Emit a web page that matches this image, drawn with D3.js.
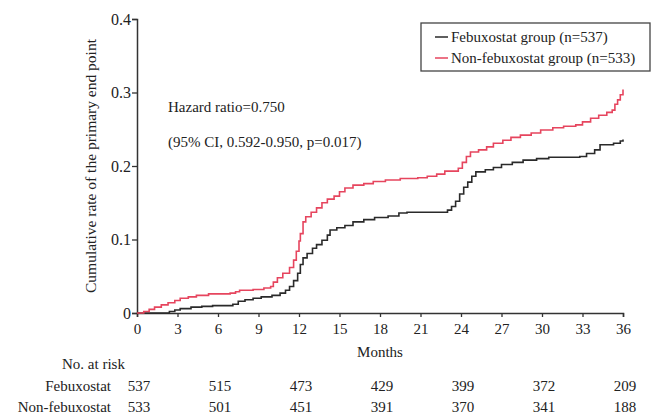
<!DOCTYPE html>
<html><head><meta charset="utf-8">
<script src="https://cdn.jsdelivr.net/npm/d3@7"></script>
<style>body{margin:0;background:#fff}svg{display:block}text{font-family:"Liberation Serif","Times New Roman",serif;fill:#222}</style>
</head><body><svg id="c" width="654" height="414"></svg>
<script>
const xTicks = [0,3,6,9,12,15,18,21,24,27,30,33,36];
const yTicks = [0,0.1,0.2,0.3,0.4];
const yTickLabels = ["0","0.1","0.2","0.3","0.4"];
const seriesNames = ["Febuxostat group (n=537)","Non-febuxostat group (n=533)"];
const seriesColors = ["#2a2a2a","#e6455e"];
const febTime = [0,2.4,2.8,3.2,4.0,4.8,5.6,7.1,7.5,8.0,8.6,9.2,10.0,10.6,11.0,11.3,11.6,11.9,12.1,12.3,12.6,13.0,13.3,13.7,14.1,14.3,14.8,15.4,16.0,16.8,17.6,18.6,19.4,20.0,23.0,23.3,23.6,23.9,24.2,24.5,24.8,25.1,25.8,26.4,27.0,27.8,28.6,29.6,30.5,32.8,33.3,33.9,34.3,35.3,35.8,36.0];
const febRate = [0,0.002,0.004,0.006,0.008,0.009,0.010,0.012,0.016,0.018,0.020,0.022,0.024,0.027,0.031,0.036,0.044,0.054,0.066,0.075,0.081,0.088,0.093,0.099,0.106,0.113,0.116,0.119,0.124,0.127,0.130,0.132,0.136,0.137,0.140,0.145,0.152,0.162,0.171,0.178,0.186,0.192,0.195,0.198,0.202,0.205,0.208,0.210,0.212,0.213,0.217,0.222,0.229,0.231,0.234,0.236];
const nonTime = [0,0.5,0.9,1.3,1.8,2.3,2.8,3.2,3.8,4.4,5.3,6.9,7.3,7.6,8.6,9.4,9.9,10.1,10.4,10.8,11.3,11.6,11.8,12.0,12.1,12.3,12.5,12.9,13.3,13.7,14.1,14.6,15.0,15.4,16.0,16.8,17.5,18.4,19.5,20.8,21.5,22.2,22.8,23.8,24.1,24.4,24.7,25.3,25.9,26.4,27.1,27.7,28.4,29.2,29.9,30.8,31.6,32.5,33.0,33.6,34.2,34.8,35.2,35.4,35.6,35.8,36.0];
const nonRate = [0,0.002,0.005,0.008,0.011,0.014,0.017,0.020,0.022,0.024,0.026,0.027,0.029,0.031,0.032,0.034,0.036,0.042,0.048,0.054,0.062,0.072,0.084,0.098,0.108,0.124,0.131,0.137,0.143,0.150,0.155,0.159,0.165,0.170,0.174,0.176,0.179,0.181,0.183,0.184,0.186,0.189,0.193,0.197,0.205,0.213,0.219,0.222,0.226,0.231,0.235,0.239,0.242,0.245,0.249,0.252,0.254,0.256,0.260,0.265,0.269,0.273,0.276,0.284,0.290,0.297,0.304];
const riskMonths = [0,6,12,18,24,30,36];
const riskGroups = ["Febuxostat","Non-febuxostat"];
const febRisk = [537,515,473,429,399,372,209];
const nonRisk = [533,501,451,391,370,341,188];
const annotations = ["Hazard ratio=0.750","(95% CI, 0.592-0.950, p=0.017)"];

const svg = d3.select("#c");
const x = d3.scaleLinear().domain([0,36]).range([137,623]);
const y = d3.scaleLinear().domain([0,0.4]).range([313,19]);
const FS = 15;

// axes
const gx = svg.append("g").attr("transform","translate(0,313)")
  .call(d3.axisBottom(x).tickValues(xTicks).tickSize(4).tickPadding(6).tickFormat(d3.format("d")));
const gy = svg.append("g").attr("transform","translate(137,0)")
  .call(d3.axisLeft(y).tickValues(yTicks).tickSize(5).tickPadding(1).tickFormat((d,i)=>yTickLabels[i]));
[gx,gy].forEach(g=>{
  g.select(".domain").attr("stroke","#333").attr("stroke-width",1.5);
  g.selectAll(".tick line").attr("stroke","#333").attr("stroke-width",1.3);
  g.selectAll(".tick text").attr("font-family","Liberation Serif").attr("font-size",FS).attr("fill","#222");
});
gy.selectAll(".tick text").attr("font-size",16);

// lines
const line = d3.line().x(d=>x(d[0])).y(d=>y(d[1])).curve(d3.curveStepAfter);
const series = [d3.zip(febTime,febRate), d3.zip(nonTime,nonRate)];
svg.selectAll("path.km").data(series).join("path").attr("class","km")
  .attr("d",line).attr("fill","none")
  .attr("stroke",(d,i)=>seriesColors[i]).attr("stroke-width",1.6);

// axis titles
svg.append("text").attr("transform","translate(96,166) rotate(-90)")
  .attr("text-anchor","middle").attr("font-size",15.5).text("Cumulative rate of the primary end point");
svg.append("text").attr("x",380).attr("y",357).attr("text-anchor","middle").attr("font-size",FS).text("Months");

// annotations
svg.selectAll("text.ann").data(annotations).join("text").attr("class","ann")
  .attr("x",168).attr("y",(d,i)=>112+i*35).attr("font-size",FS).text(d=>d);

// legend
const lg = svg.append("g");
lg.append("rect").attr("x",421).attr("y",23).attr("width",229).attr("height",48)
  .attr("fill","#fff").attr("stroke","#444").attr("stroke-width",1.3);
seriesNames.forEach((n,i)=>{
  const cy = 37 + i*21;
  lg.append("line").attr("x1",435).attr("x2",448).attr("y1",cy).attr("y2",cy)
    .attr("stroke",seriesColors[i]).attr("stroke-width",1.5);
  lg.append("text").attr("x",451).attr("y",cy+5).attr("font-size",FS).text(n);
});

// number at risk
svg.append("text").attr("x",62).attr("y",369).attr("font-size",FS).text("No. at risk");
const riskRows = [febRisk, nonRisk];
riskGroups.forEach((g,i)=>{
  const by = 391 + i*21;
  svg.append("text").attr("x",111).attr("y",by).attr("text-anchor","end").attr("font-size",FS).text(g);
  svg.selectAll("text.r"+i).data(riskRows[i]).join("text").attr("class","r"+i)
    .attr("x",(d,j)=>x(riskMonths[j])+2).attr("y",by).attr("text-anchor","middle").attr("font-size",FS).text(d=>d);
});
</script></body></html>
